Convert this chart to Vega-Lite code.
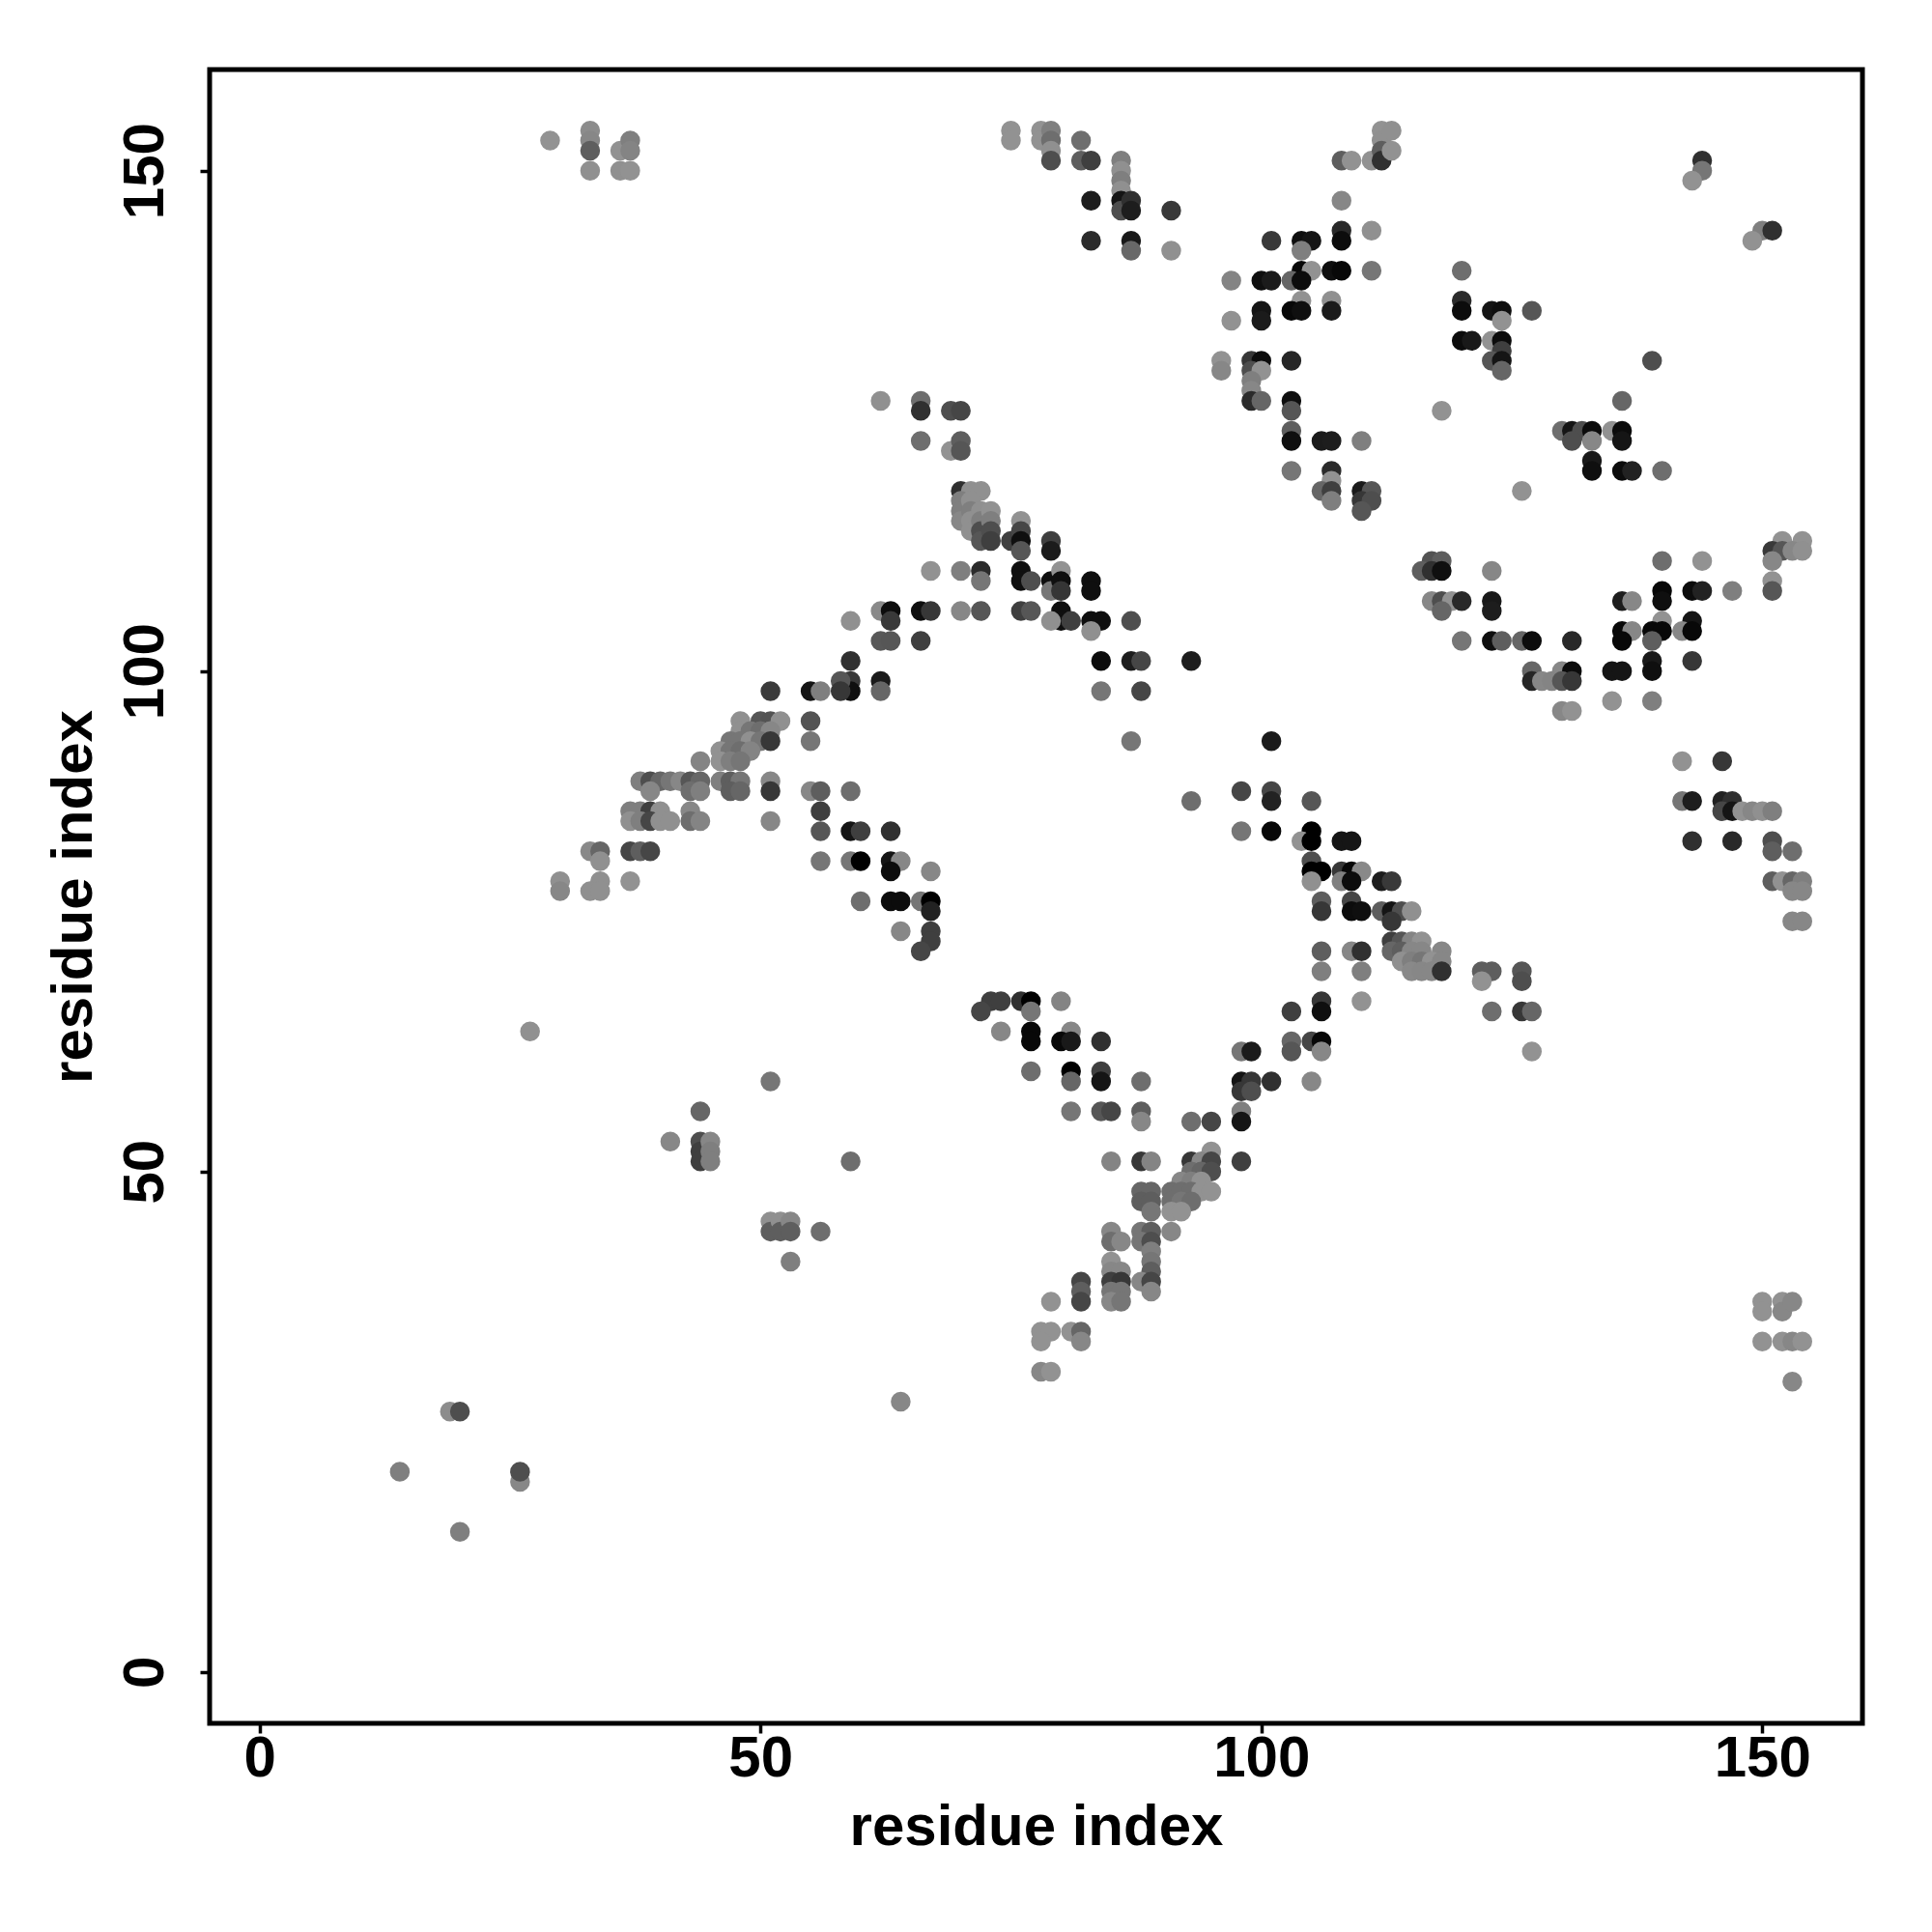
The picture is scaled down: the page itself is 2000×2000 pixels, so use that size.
{"$schema":"https://vega.github.io/schema/vega-lite/v6.json","width":1711,"height":1712,"autosize":"none","padding":{"left":217,"top":72,"right":72,"bottom":216},"background":"white","view":{"stroke":"black","strokeWidth":5},"data":{"values":[
{"x":14,"y":20,"w":21},{"x":19,"y":26,"w":8},{"x":20,"y":14,"w":21},{"x":20,"y":26,"w":69},{"x":26,"y":19,"w":13},{"x":26,"y":20,"w":69},{"x":27,"y":64,"w":5},{"x":64,"y":27,"w":13},
{"x":29,"y":153,"w":3},{"x":33,"y":154,"w":8},{"x":33,"y":153,"w":13},{"x":33,"y":152,"w":53},{"x":33,"y":150,"w":5},{"x":36,"y":152,"w":3},{"x":36,"y":150,"w":5},{"x":37,"y":153,"w":21},{"x":37,"y":152,"w":16},{"x":37,"y":150,"w":3},
{"x":75,"y":154,"w":3},{"x":75,"y":153,"w":3},{"x":78,"y":154,"w":3},{"x":78,"y":153,"w":3},{"x":79,"y":154,"w":21},{"x":79,"y":153,"w":37},{"x":79,"y":152,"w":5},{"x":79,"y":151,"w":69},{"x":82,"y":153,"w":37},{"x":82,"y":151,"w":53},{"x":83,"y":151,"w":85},{"x":83,"y":147,"w":123},{"x":83,"y":143,"w":107},{"x":86,"y":151,"w":21},{"x":86,"y":150,"w":5},{"x":86,"y":149,"w":21},{"x":86,"y":148,"w":5},{"x":86,"y":147,"w":133},{"x":86,"y":146,"w":69},{"x":87,"y":147,"w":101},{"x":87,"y":146,"w":123},{"x":87,"y":143,"w":128},{"x":87,"y":142,"w":43},{"x":91,"y":146,"w":91},{"x":91,"y":142,"w":5},
{"x":62,"y":127,"w":5},{"x":66,"y":127,"w":37},{"x":66,"y":126,"w":101},{"x":66,"y":123,"w":37},{"x":69,"y":126,"w":69},{"x":69,"y":122,"w":3},{"x":70,"y":126,"w":77},{"x":70,"y":123,"w":53},{"x":70,"y":122,"w":61},
{"x":70,"y":118,"w":101},{"x":71,"y":118,"w":5},{"x":72,"y":118,"w":5},{"x":70,"y":117,"w":21},{"x":70,"y":116,"w":21},{"x":70,"y":115,"w":13},{"x":71,"y":117,"w":5},{"x":71,"y":116,"w":21},{"x":71,"y":115,"w":5},{"x":71,"y":114,"w":5},{"x":72,"y":116,"w":5},{"x":72,"y":115,"w":21},{"x":72,"y":114,"w":69},{"x":72,"y":113,"w":61},{"x":73,"y":116,"w":3},{"x":73,"y":115,"w":21},{"x":73,"y":114,"w":69},{"x":73,"y":113,"w":85},{"x":75,"y":113,"w":85},{"x":76,"y":115,"w":3},{"x":76,"y":114,"w":77},{"x":76,"y":113,"w":139},{"x":76,"y":112,"w":61},{"x":79,"y":113,"w":85},{"x":79,"y":112,"w":125},
{"x":67,"y":110,"w":3},{"x":70,"y":110,"w":21},{"x":72,"y":110,"w":107},{"x":72,"y":109,"w":29},{"x":76,"y":110,"w":139},{"x":76,"y":109,"w":139},{"x":77,"y":109,"w":69},{"x":79,"y":109,"w":139},{"x":79,"y":108,"w":29},{"x":80,"y":110,"w":3},{"x":80,"y":109,"w":139},{"x":80,"y":108,"w":96},{"x":83,"y":109,"w":139},{"x":83,"y":108,"w":139},
{"x":62,"y":106,"w":11},{"x":63,"y":106,"w":141},{"x":63,"y":105,"w":91},{"x":66,"y":106,"w":139},{"x":67,"y":106,"w":93},{"x":70,"y":106,"w":13},{"x":72,"y":106,"w":61},{"x":76,"y":106,"w":85},{"x":77,"y":106,"w":61},{"x":80,"y":106,"w":139},{"x":80,"y":105,"w":139},{"x":79,"y":105,"w":5},{"x":81,"y":105,"w":85},{"x":83,"y":105,"w":139},{"x":84,"y":105,"w":139},{"x":83,"y":104,"w":5},{"x":87,"y":105,"w":69},{"x":59,"y":105,"w":5},
{"x":62,"y":103,"w":59},{"x":63,"y":103,"w":61},{"x":66,"y":103,"w":85},{"x":59,"y":101,"w":101},{"x":84,"y":101,"w":141},{"x":87,"y":101,"w":123},{"x":88,"y":101,"w":77},{"x":93,"y":101,"w":123},{"x":59,"y":99,"w":91},{"x":59,"y":98,"w":139},{"x":62,"y":99,"w":125},{"x":62,"y":98,"w":45},{"x":84,"y":98,"w":29},{"x":88,"y":98,"w":77},{"x":87,"y":93,"w":29},
{"x":58,"y":99,"w":61},{"x":51,"y":98,"w":89},{"x":55,"y":98,"w":133},{"x":56,"y":98,"w":21},{"x":58,"y":98,"w":93},
{"x":48,"y":95,"w":5},{"x":50,"y":95,"w":61},{"x":51,"y":95,"w":64},{"x":52,"y":95,"w":5},{"x":55,"y":95,"w":64},{"x":48,"y":94,"w":5},{"x":49,"y":94,"w":29},{"x":50,"y":94,"w":37},{"x":51,"y":94,"w":13},{"x":47,"y":93,"w":29},{"x":48,"y":93,"w":29},{"x":49,"y":93,"w":5},{"x":50,"y":93,"w":29},{"x":51,"y":93,"w":93},{"x":55,"y":93,"w":29},{"x":46,"y":92,"w":3},{"x":47,"y":92,"w":29},{"x":48,"y":92,"w":37},{"x":49,"y":92,"w":16},{"x":44,"y":91,"w":16},{"x":46,"y":91,"w":3},{"x":47,"y":91,"w":21},{"x":48,"y":91,"w":29},
{"x":38,"y":89,"w":21},{"x":39,"y":89,"w":69},{"x":40,"y":89,"w":45},{"x":41,"y":89,"w":29},{"x":42,"y":89,"w":13},{"x":43,"y":89,"w":61},{"x":44,"y":89,"w":45},{"x":46,"y":89,"w":21},{"x":47,"y":89,"w":53},{"x":48,"y":89,"w":29},{"x":51,"y":89,"w":13},{"x":39,"y":88,"w":13},{"x":43,"y":88,"w":37},{"x":44,"y":88,"w":21},{"x":47,"y":88,"w":53},{"x":48,"y":88,"w":45},{"x":51,"y":88,"w":93},{"x":55,"y":88,"w":13},{"x":56,"y":88,"w":53},{"x":59,"y":88,"w":37},
{"x":37,"y":86,"w":21},{"x":38,"y":86,"w":21},{"x":39,"y":86,"w":85},{"x":40,"y":86,"w":5},{"x":43,"y":86,"w":13},{"x":56,"y":86,"w":85},{"x":37,"y":85,"w":5},{"x":38,"y":85,"w":21},{"x":39,"y":85,"w":77},{"x":40,"y":85,"w":5},{"x":41,"y":85,"w":5},{"x":43,"y":85,"w":37},{"x":44,"y":85,"w":16},{"x":51,"y":85,"w":13},{"x":56,"y":84,"w":61},{"x":59,"y":84,"w":133},{"x":60,"y":84,"w":85},{"x":63,"y":84,"w":101},
{"x":33,"y":82,"w":11},{"x":34,"y":82,"w":45},{"x":37,"y":82,"w":77},{"x":38,"y":82,"w":53},{"x":39,"y":82,"w":77},{"x":34,"y":81,"w":5},{"x":56,"y":81,"w":29},{"x":59,"y":81,"w":29},{"x":60,"y":81,"w":149},{"x":63,"y":81,"w":133},{"x":64,"y":81,"w":13},{"x":63,"y":80,"w":141},{"x":67,"y":80,"w":13},{"x":30,"y":79,"w":5},{"x":34,"y":79,"w":5},{"x":37,"y":79,"w":3},{"x":30,"y":78,"w":13},{"x":33,"y":78,"w":5},{"x":34,"y":78,"w":5},{"x":60,"y":77,"w":37},{"x":63,"y":77,"w":141},{"x":64,"y":77,"w":141},{"x":66,"y":77,"w":29},{"x":67,"y":77,"w":149},{"x":67,"y":76,"w":117},{"x":64,"y":74,"w":13},{"x":67,"y":74,"w":85},{"x":67,"y":73,"w":85},{"x":66,"y":72,"w":77},
{"x":108,"y":151,"w":53},{"x":109,"y":151,"w":3},{"x":111,"y":151,"w":3},{"x":112,"y":154,"w":3},{"x":112,"y":153,"w":5},{"x":112,"y":152,"w":53},{"x":112,"y":151,"w":101},{"x":113,"y":154,"w":5},{"x":113,"y":152,"w":3},{"x":108,"y":147,"w":13},{"x":144,"y":151,"w":101},{"x":144,"y":150,"w":29},{"x":143,"y":149,"w":3},{"x":150,"y":144,"w":21},{"x":151,"y":144,"w":101},{"x":149,"y":143,"w":3},{"x":108,"y":144,"w":109},{"x":111,"y":144,"w":5},
{"x":101,"y":143,"w":91},{"x":104,"y":143,"w":139},{"x":105,"y":143,"w":133},{"x":108,"y":143,"w":141},{"x":104,"y":142,"w":21},{"x":104,"y":140,"w":144},{"x":105,"y":140,"w":3},{"x":107,"y":140,"w":139},{"x":108,"y":140,"w":144},{"x":111,"y":140,"w":29},{"x":120,"y":140,"w":37},{"x":97,"y":139,"w":16},{"x":100,"y":139,"w":139},{"x":101,"y":139,"w":125},{"x":103,"y":139,"w":45},{"x":104,"y":139,"w":141},{"x":104,"y":137,"w":3},{"x":107,"y":137,"w":5},{"x":120,"y":137,"w":107},{"x":100,"y":136,"w":133},{"x":103,"y":136,"w":144},{"x":104,"y":136,"w":139},{"x":107,"y":136,"w":125},{"x":120,"y":136,"w":141},{"x":123,"y":136,"w":133},{"x":124,"y":136,"w":139},{"x":127,"y":136,"w":61},{"x":97,"y":135,"w":3},{"x":100,"y":135,"w":125},{"x":124,"y":135,"w":3},{"x":120,"y":133,"w":141},{"x":121,"y":133,"w":128},{"x":123,"y":133,"w":3},{"x":124,"y":133,"w":141},{"x":124,"y":132,"w":85},
{"x":96,"y":131,"w":3},{"x":99,"y":131,"w":93},{"x":100,"y":131,"w":141},{"x":103,"y":131,"w":112},{"x":123,"y":131,"w":61},{"x":124,"y":131,"w":133},{"x":139,"y":131,"w":69},{"x":96,"y":130,"w":13},{"x":99,"y":130,"w":69},{"x":100,"y":130,"w":3},{"x":124,"y":130,"w":45},{"x":99,"y":129,"w":21},{"x":99,"y":128,"w":13},{"x":99,"y":127,"w":107},{"x":100,"y":127,"w":45},{"x":103,"y":127,"w":139},{"x":136,"y":127,"w":45},{"x":103,"y":126,"w":61},{"x":118,"y":126,"w":3},
{"x":103,"y":124,"w":53},{"x":130,"y":124,"w":37},{"x":131,"y":124,"w":133},{"x":132,"y":124,"w":69},{"x":133,"y":124,"w":141},{"x":135,"y":124,"w":3},{"x":136,"y":124,"w":141},{"x":103,"y":123,"w":139},{"x":106,"y":123,"w":125},{"x":107,"y":123,"w":123},{"x":110,"y":123,"w":21},{"x":131,"y":123,"w":69},{"x":133,"y":123,"w":13},{"x":136,"y":123,"w":133},{"x":133,"y":121,"w":128},{"x":103,"y":120,"w":29},{"x":107,"y":120,"w":107},{"x":133,"y":120,"w":139},{"x":136,"y":120,"w":141},{"x":137,"y":120,"w":117},{"x":140,"y":120,"w":37},{"x":107,"y":119,"w":3},{"x":106,"y":118,"w":45},{"x":107,"y":118,"w":85},{"x":110,"y":118,"w":125},{"x":111,"y":118,"w":61},{"x":126,"y":118,"w":3},{"x":107,"y":117,"w":21},{"x":110,"y":117,"w":93},{"x":111,"y":117,"w":69},{"x":110,"y":116,"w":61},
{"x":152,"y":113,"w":3},{"x":154,"y":113,"w":3},{"x":151,"y":112,"w":91},{"x":152,"y":112,"w":61},{"x":153,"y":112,"w":13},{"x":154,"y":112,"w":5},{"x":117,"y":111,"w":64},{"x":118,"y":111,"w":53},{"x":140,"y":111,"w":37},{"x":144,"y":111,"w":3},{"x":151,"y":111,"w":13},{"x":116,"y":110,"w":53},{"x":117,"y":110,"w":101},{"x":118,"y":110,"w":139},{"x":123,"y":110,"w":13},{"x":151,"y":109,"w":3},{"x":140,"y":108,"w":144},{"x":143,"y":108,"w":141},{"x":144,"y":108,"w":117},{"x":147,"y":108,"w":21},{"x":151,"y":108,"w":61},{"x":117,"y":107,"w":13},{"x":118,"y":107,"w":69},{"x":119,"y":107,"w":3},{"x":120,"y":107,"w":109},{"x":123,"y":107,"w":128},{"x":136,"y":107,"w":123},{"x":137,"y":107,"w":13},{"x":140,"y":107,"w":139},{"x":118,"y":106,"w":45},{"x":123,"y":106,"w":123},{"x":140,"y":105,"w":3},{"x":143,"y":105,"w":133},{"x":136,"y":104,"w":144},{"x":137,"y":104,"w":13},{"x":139,"y":104,"w":144},{"x":140,"y":104,"w":144},{"x":142,"y":104,"w":13},{"x":143,"y":104,"w":144},{"x":120,"y":103,"w":29},{"x":123,"y":103,"w":139},{"x":124,"y":103,"w":53},{"x":126,"y":103,"w":45},{"x":127,"y":103,"w":141},{"x":131,"y":103,"w":109},{"x":136,"y":103,"w":144},{"x":139,"y":103,"w":53},{"x":139,"y":101,"w":128},{"x":143,"y":101,"w":93},{"x":127,"y":100,"w":45},{"x":130,"y":100,"w":13},{"x":131,"y":100,"w":141},{"x":135,"y":100,"w":133},{"x":136,"y":100,"w":133},{"x":139,"y":100,"w":139},{"x":127,"y":99,"w":112},{"x":128,"y":99,"w":13},{"x":129,"y":99,"w":16},{"x":130,"y":99,"w":61},{"x":131,"y":99,"w":93},{"x":135,"y":97,"w":3},{"x":139,"y":97,"w":21},{"x":130,"y":96,"w":13},{"x":131,"y":96,"w":3},
{"x":142,"y":91,"w":3},{"x":146,"y":91,"w":93},{"x":101,"y":93,"w":125},{"x":98,"y":88,"w":77},{"x":101,"y":88,"w":77},{"x":93,"y":87,"w":37},{"x":101,"y":87,"w":117},{"x":105,"y":87,"w":61},{"x":142,"y":87,"w":29},{"x":143,"y":87,"w":123},{"x":146,"y":87,"w":117},{"x":147,"y":87,"w":101},{"x":146,"y":86,"w":77},{"x":147,"y":86,"w":133},{"x":148,"y":86,"w":3},{"x":149,"y":86,"w":13},{"x":150,"y":86,"w":5},{"x":151,"y":86,"w":21},{"x":98,"y":84,"w":29},{"x":101,"y":84,"w":144},{"x":105,"y":84,"w":149},{"x":104,"y":83,"w":3},{"x":105,"y":83,"w":149},{"x":108,"y":83,"w":133},{"x":109,"y":83,"w":133},{"x":143,"y":83,"w":101},{"x":147,"y":83,"w":109},{"x":151,"y":83,"w":69},{"x":151,"y":82,"w":53},{"x":153,"y":82,"w":37},{"x":105,"y":81,"w":69},{"x":105,"y":80,"w":149},{"x":106,"y":80,"w":149},{"x":108,"y":80,"w":93},{"x":109,"y":80,"w":144},{"x":110,"y":80,"w":11},{"x":105,"y":79,"w":5},{"x":108,"y":79,"w":21},{"x":109,"y":79,"w":141},{"x":112,"y":79,"w":123},{"x":113,"y":79,"w":91},{"x":151,"y":79,"w":53},{"x":152,"y":79,"w":3},{"x":153,"y":79,"w":45},{"x":154,"y":79,"w":21},{"x":153,"y":78,"w":13},{"x":154,"y":78,"w":13},{"x":106,"y":77,"w":53},{"x":109,"y":77,"w":77},{"x":106,"y":76,"w":93},{"x":109,"y":76,"w":141},{"x":110,"y":76,"w":139},{"x":112,"y":76,"w":53},{"x":113,"y":76,"w":133},{"x":114,"y":76,"w":69},{"x":115,"y":76,"w":5},{"x":113,"y":75,"w":93},{"x":153,"y":75,"w":13},{"x":154,"y":75,"w":13},
{"x":113,"y":73,"w":85},{"x":114,"y":73,"w":61},{"x":115,"y":73,"w":16},{"x":116,"y":73,"w":3},{"x":106,"y":72,"w":53},{"x":109,"y":72,"w":13},{"x":110,"y":72,"w":101},{"x":113,"y":72,"w":45},{"x":114,"y":72,"w":53},{"x":115,"y":72,"w":13},{"x":116,"y":72,"w":13},{"x":118,"y":72,"w":13},{"x":114,"y":71,"w":5},{"x":115,"y":71,"w":21},{"x":116,"y":71,"w":29},{"x":117,"y":71,"w":3},{"x":118,"y":71,"w":13},{"x":106,"y":70,"w":21},{"x":110,"y":70,"w":21},{"x":115,"y":70,"w":11},{"x":116,"y":70,"w":13},{"x":117,"y":70,"w":13},{"x":118,"y":70,"w":101},{"x":122,"y":70,"w":53},{"x":123,"y":70,"w":53},{"x":126,"y":70,"w":61},{"x":122,"y":69,"w":3},{"x":126,"y":69,"w":69},{"x":106,"y":67,"w":93},{"x":110,"y":67,"w":3},{"x":103,"y":66,"w":85},{"x":106,"y":66,"w":139},{"x":123,"y":66,"w":37},{"x":126,"y":66,"w":93},{"x":127,"y":66,"w":45},{"x":103,"y":63,"w":45},{"x":105,"y":63,"w":77},{"x":106,"y":63,"w":144},{"x":98,"y":62,"w":29},{"x":99,"y":62,"w":125},{"x":103,"y":62,"w":61},{"x":106,"y":62,"w":13},{"x":127,"y":62,"w":3},
{"x":73,"y":67,"w":85},{"x":74,"y":67,"w":85},{"x":76,"y":67,"w":101},{"x":77,"y":67,"w":149},{"x":80,"y":67,"w":16},{"x":72,"y":66,"w":77},{"x":77,"y":66,"w":29},{"x":74,"y":64,"w":13},{"x":77,"y":64,"w":144},{"x":81,"y":64,"w":13},{"x":77,"y":63,"w":144},{"x":80,"y":63,"w":144},{"x":81,"y":63,"w":128},{"x":84,"y":63,"w":101},{"x":77,"y":60,"w":37},{"x":81,"y":60,"w":149},{"x":84,"y":60,"w":85},{"x":81,"y":59,"w":45},{"x":84,"y":59,"w":133},{"x":88,"y":59,"w":37},{"x":98,"y":59,"w":133},{"x":99,"y":59,"w":93},{"x":101,"y":59,"w":101},{"x":105,"y":59,"w":13},{"x":98,"y":58,"w":93},{"x":99,"y":58,"w":69},{"x":81,"y":56,"w":29},{"x":84,"y":56,"w":61},{"x":85,"y":56,"w":77},{"x":88,"y":56,"w":53},{"x":98,"y":56,"w":21},{"x":88,"y":55,"w":13},{"x":93,"y":55,"w":37},{"x":95,"y":55,"w":77},{"x":98,"y":55,"w":133},{"x":95,"y":52,"w":3},{"x":85,"y":51,"w":16},{"x":88,"y":51,"w":93},{"x":89,"y":51,"w":16},{"x":93,"y":51,"w":93},{"x":94,"y":51,"w":13},{"x":95,"y":51,"w":77},{"x":98,"y":51,"w":85},{"x":93,"y":50,"w":37},{"x":94,"y":50,"w":45},{"x":95,"y":50,"w":69},{"x":92,"y":49,"w":13},{"x":93,"y":49,"w":21},{"x":94,"y":49,"w":3},{"x":88,"y":48,"w":45},{"x":89,"y":48,"w":45},{"x":91,"y":48,"w":37},{"x":92,"y":48,"w":37},{"x":93,"y":48,"w":37},{"x":94,"y":48,"w":3},{"x":95,"y":48,"w":3},{"x":88,"y":47,"w":53},{"x":89,"y":47,"w":53},{"x":91,"y":47,"w":37},{"x":92,"y":47,"w":29},{"x":93,"y":47,"w":37},{"x":89,"y":46,"w":29},{"x":91,"y":46,"w":3},{"x":92,"y":46,"w":3},{"x":85,"y":44,"w":13},{"x":88,"y":44,"w":29},{"x":89,"y":44,"w":53},{"x":91,"y":44,"w":13},{"x":85,"y":43,"w":37},{"x":86,"y":43,"w":13},{"x":88,"y":43,"w":29},{"x":89,"y":43,"w":69},{"x":89,"y":42,"w":21},{"x":85,"y":41,"w":3},{"x":89,"y":41,"w":29},{"x":85,"y":40,"w":13},{"x":86,"y":40,"w":13},{"x":89,"y":40,"w":53},{"x":82,"y":39,"w":77},{"x":85,"y":39,"w":85},{"x":86,"y":39,"w":93},{"x":88,"y":39,"w":13},{"x":89,"y":39,"w":77},{"x":82,"y":38,"w":53},{"x":85,"y":38,"w":29},{"x":86,"y":38,"w":29},{"x":89,"y":38,"w":13},{"x":79,"y":37,"w":3},{"x":82,"y":37,"w":77},{"x":85,"y":37,"w":13},{"x":86,"y":37,"w":29},{"x":78,"y":34,"w":3},{"x":79,"y":34,"w":3},{"x":81,"y":34,"w":3},{"x":82,"y":34,"w":45},{"x":78,"y":33,"w":3},{"x":82,"y":33,"w":13},{"x":78,"y":30,"w":13},{"x":79,"y":30,"w":3},
{"x":41,"y":53,"w":13},{"x":44,"y":56,"w":45},{"x":44,"y":53,"w":69},{"x":44,"y":52,"w":85},{"x":44,"y":51,"w":85},{"x":45,"y":53,"w":13},{"x":45,"y":52,"w":21},{"x":45,"y":51,"w":21},{"x":51,"y":59,"w":29},{"x":51,"y":45,"w":5},{"x":51,"y":44,"w":53},{"x":52,"y":45,"w":5},{"x":52,"y":44,"w":53},{"x":53,"y":45,"w":13},{"x":53,"y":44,"w":53},{"x":53,"y":41,"w":21},{"x":56,"y":44,"w":37},{"x":59,"y":51,"w":37},
{"x":150,"y":37,"w":3},{"x":150,"y":36,"w":3},{"x":152,"y":37,"w":3},{"x":152,"y":36,"w":13},{"x":153,"y":37,"w":13},{"x":150,"y":33,"w":3},{"x":152,"y":33,"w":3},{"x":153,"y":33,"w":13},{"x":154,"y":33,"w":3},{"x":153,"y":29,"w":13}
]},"mark":{"type":"point","shape":"circle","filled":true,"opacity":1,"size":420},"encoding":{"x":{"field":"x","type":"quantitative","scale":{"domain":[-4.985,160],"nice":false,"zero":false},"axis":{"values":[0,50,100,150],"grid":false,"domain":false,"tickColor":"black","tickWidth":3.5,"tickSize":10,"labelFont":"Liberation Sans","labelFontWeight":"bold","labelFontSize":60,"labelColor":"black","labelPadding":-3,"title":"residue index","titleFont":"Liberation Sans","titleFontWeight":"bold","titleFontSize":60,"titleColor":"black","titlePadding":12}},"y":{"field":"y","type":"quantitative","scale":{"domain":[-5.14,160.1],"nice":false,"zero":false},"axis":{"values":[0,50,100,150],"grid":false,"domain":false,"tickColor":"black","tickWidth":3.5,"tickSize":10,"labelFont":"Liberation Sans","labelFontWeight":"bold","labelFontSize":60,"labelColor":"black","labelAngle":-90,"labelAlign":"center","labelBaseline":"bottom","labelPadding":26,"title":"residue index","titleFont":"Liberation Sans","titleFontWeight":"bold","titleFontSize":60,"titleColor":"black","titlePadding":13}},"color":{"field":"w","type":"quantitative","legend":null,"scale":{"domain":[0,149],"range":["#959595","#000000"]}},"order":[{"field":"x"},{"field":"y"}]}}
